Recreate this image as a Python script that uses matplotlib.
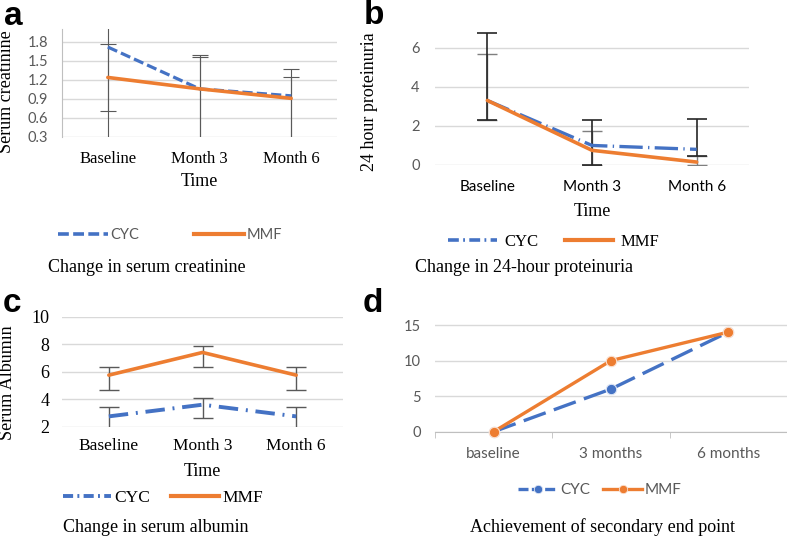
import matplotlib
matplotlib.use('Agg')
import matplotlib.pyplot as plt
from matplotlib.lines import Line2D

# ---- data ----
time_labels = ['Baseline', 'Month 3', 'Month 6']
end_labels = ['baseline', '3 months', '6 months']

creat_cyc = [1.72, 1.06, 0.95]
creat_cyc_hi = [0.40, 0.53, 0.43]
creat_cyc_lo = [1.60, 1.00, 0.80]
creat_mmf = [1.24, 1.06, 0.91]
creat_mmf_hi = [0.53, 0.50, 0.34]
creat_mmf_lo = [0.53, 0.90, 0.75]

prot_cyc = [3.3, 1.0, 0.8]
prot_cyc_hi = [3.45, 1.3, 1.55]
prot_cyc_lo = [1.0, 1.0, 0.35]
prot_mmf = [3.3, 0.75, 0.15]
prot_mmf_hi = [2.4, 1.0, 0.3]
prot_mmf_lo = [1.0, 0.75, 0.15]

alb_cyc = [2.75, 3.6, 2.75]
alb_cyc_hi = [0.65, 0.5, 0.65]
alb_cyc_lo = [0.9, 1.0, 0.9]
alb_mmf = [5.75, 7.4, 5.75]
alb_mmf_hi = [0.6, 0.5, 0.6]
alb_mmf_lo = [1.05, 1.05, 1.05]

end_cyc = [0, 6, 14]
end_mmf = [0, 10, 14]

BLUE = '#4472C4'
ORANGE = '#ED7D31'
GRID = '#D9D9D9'
GRAYTXT = '#595959'
SERIF = 'Liberation Serif'
SANS = 'Lato'

W, H = 787, 536
fig = plt.figure(figsize=(W / 100, H / 100), dpi=100)


def px_axes(left, top, right, bottom):
    return fig.add_axes([left / W, 1 - bottom / H, (right - left) / W, (bottom - top) / H])


def px_text(x, y, s, **kw):
    return fig.text(x / W, 1 - y / H, s, **kw)


def base_axes(ax, ylim, yticks):
    x = range(3)
    ax.set_xlim(-0.5, 2.5)
    ax.set_ylim(*ylim)
    ax.set_yticks(yticks)
    ax.set_xticks(list(x))
    ax.grid(axis='y', color=GRID, lw=1.0, zorder=0)
    ax.set_axisbelow(True)
    for s in ax.spines.values():
        s.set_visible(False)
    ax.tick_params(length=0)
    ax.set_facecolor('none')
    return list(x)


def legend(ax, handles, labels, cx, cy, font, size, color, hl, tp, cs):
    ax.legend(handles, labels, ncol=2, loc='center', bbox_to_anchor=(cx / W, 1 - cy / H),
              bbox_transform=fig.transFigure, frameon=False, handlelength=hl,
              handletextpad=tp, columnspacing=cs, labelcolor=color,
              prop={'family': font, 'size': size}, borderaxespad=0, borderpad=0)


# ---------------- panel a ----------------
ax = px_axes(62, 29.3, 337, 137)
x = base_axes(ax, (0.3, 2.0), [0.3, 0.6, 0.9, 1.2, 1.5, 1.8])
ax.yaxis.set_major_formatter(matplotlib.ticker.FormatStrFormatter('%.1f'))
ax.spines['left'].set_visible(True)
ax.spines['left'].set_color('#BFBFBF')
ax.errorbar(x, creat_cyc, yerr=[creat_cyc_lo, creat_cyc_hi], fmt='none', ecolor='#595959',
            elinewidth=0.8, capsize=6, capthick=0.8, zorder=2)
ax.errorbar(x, creat_mmf, yerr=[creat_mmf_lo, creat_mmf_hi], fmt='none', ecolor='#595959',
            elinewidth=0.8, capsize=6, capthick=0.8, zorder=2)
ax.plot(x, creat_cyc, color=BLUE, lw=2.3, ls=(0, (3.2, 1.3)), zorder=3)
ax.plot(x, creat_mmf, color=ORANGE, lw=2.6, zorder=4, solid_capstyle='round')
ax.set_xticklabels(time_labels, family=SERIF, size=12, color='black')
ax.tick_params(axis='x', pad=10)
ax.tick_params(axis='y', pad=10, labelcolor=GRAYTXT, labelsize=10.5)
for t in ax.get_yticklabels():
    t.set_family(SANS)
px_text(199, 181, 'Time', family=SERIF, size=13, ha='center', va='center')
px_text(7, 92, 'Serum creatinine', family=SERIF, size=13, ha='center', va='center', rotation=90)
legend(ax, [Line2D([], [], color=BLUE, lw=2.6, ls=(0, (3, 1.2))),
            Line2D([], [], color=ORANGE, lw=3)], ['CYC', 'MMF'],
       170, 235, SANS, 10.5, GRAYTXT, 3.4, 0.15, 3.8)
px_text(48, 267, 'Change in serum creatinine', family=SERIF, size=13, ha='left', va='center')
px_text(4, 25, 'a', family='Liberation Sans', weight='bold', size=24, ha='left', va='baseline')

# ---------------- panel b ----------------
ax = px_axes(435, 28.1, 749, 165)
x = base_axes(ax, (0, 7), [0, 2, 4, 6])
ax.errorbar(x, prot_mmf, yerr=[prot_mmf_lo, prot_mmf_hi], fmt='none', ecolor='#7F7F7F',
            elinewidth=1.0, capsize=7, capthick=1.0, zorder=2)
ax.errorbar(x, prot_cyc, yerr=[prot_cyc_lo, prot_cyc_hi], fmt='none', ecolor='#262626',
            elinewidth=1.2, capsize=7, capthick=1.2, zorder=2)
ax.plot(x, prot_cyc, color=BLUE, lw=2.4, ls=(0, (7, 1.6, 0.4, 1.6)), zorder=3)
ax.plot(x, prot_mmf, color=ORANGE, lw=2.6, zorder=4, solid_capstyle='round')
ax.set_xticklabels(time_labels, family=SANS, size=11, color='black')
ax.tick_params(axis='x', pad=11)
ax.tick_params(axis='y', pad=11, labelcolor=GRAYTXT, labelsize=10.5)
for t in ax.get_yticklabels():
    t.set_family(SANS)
px_text(592, 212, 'Time', family=SERIF, size=13, ha='center', va='center')
px_text(370, 102, '24 hour proteinuria', family=SERIF, size=13, ha='center', va='center', rotation=90)
legend(ax, [Line2D([], [], color=BLUE, lw=2.6, ls=(0, (3, 1.2, 0.5, 1.2))),
            Line2D([], [], color=ORANGE, lw=3)], ['CYC', 'MMF'],
       554, 242, SERIF, 12, 'black', 2.9, 0.45, 1.6)
px_text(415, 268, 'Change in 24-hour proteinuria', family=SERIF, size=13, ha='left', va='center')
px_text(364, 24, 'b', family='Liberation Sans', weight='bold', size=24, ha='left', va='baseline')

# ---------------- panel c ----------------
ax = px_axes(62, 316.7, 343, 426.7)
x = base_axes(ax, (2, 10), [2, 4, 6, 8, 10])
ax.errorbar(x, alb_cyc, yerr=[alb_cyc_lo, alb_cyc_hi], fmt='none', ecolor='#595959',
            elinewidth=1.0, capsize=7, capthick=1.0, zorder=2)
ax.errorbar(x, alb_mmf, yerr=[alb_mmf_lo, alb_mmf_hi], fmt='none', ecolor='#595959',
            elinewidth=1.0, capsize=7, capthick=1.0, zorder=2)
ax.plot(x, alb_cyc, color=BLUE, lw=2.8, ls=(0, (5, 2, 0.5, 2)), zorder=3)
ax.plot(x, alb_mmf, color=ORANGE, lw=2.6, zorder=4, solid_capstyle='round')
ax.set_xticklabels(time_labels, family=SERIF, size=12.5, color='black')
ax.set_yticklabels([str(v) for v in [2, 4, 6, 8, 10]], family=SERIF, size=13, color='black')
ax.tick_params(axis='x', pad=8)
ax.tick_params(axis='y', pad=9)
px_text(202, 471, 'Time', family=SERIF, size=13, ha='center', va='center')
px_text(8, 383, 'Serum Albumin', family=SERIF, size=13, ha='center', va='center', rotation=90)
legend(ax, [Line2D([], [], color=BLUE, lw=2.8, ls=(0, (2.6, 1.1, 0.5, 1.1))),
            Line2D([], [], color=ORANGE, lw=3)], ['CYC', 'MMF'],
       163, 498, SERIF, 12.5, 'black', 2.8, 0.2, 1.15)
px_text(63, 527, 'Change in serum albumin', family=SERIF, size=13, ha='left', va='center')
px_text(3, 312, 'c', family='Liberation Sans', weight='bold', size=24, ha='left', va='baseline')

# ---------------- panel d ----------------
ax = px_axes(435, 317.9, 787, 431.7)
x = base_axes(ax, (0, 16), [0, 5, 10, 15])
ax.spines['bottom'].set_visible(True)
ax.spines['bottom'].set_color('#BFBFBF')
ax.set_xticks([-0.5, 0.5, 1.5, 2.5], minor=True)
ax.tick_params(axis='x', which='minor', length=4, color='#BFBFBF', direction='out')
ax.plot(x, end_cyc, color=BLUE, lw=2.4, ls=(0, (7, 2.6)), marker='o', ms=7.5,
        mec='#DCE4F4', mew=0.8, zorder=3, clip_on=False)
ax.plot(x, end_mmf, color=ORANGE, lw=2.4, marker='o', ms=7.5,
        mec='#FBE0CF', mew=0.8, zorder=4, clip_on=False)
ax.set_xticklabels(end_labels, family=SANS, size=11, color=GRAYTXT)
ax.tick_params(axis='x', which='major', pad=11)
ax.tick_params(axis='y', pad=10, labelcolor=GRAYTXT, labelsize=10.5)
for t in ax.get_yticklabels():
    t.set_family(SANS)
legend(ax, [Line2D([], [], color=BLUE, lw=2.4, ls=(0, (3, 1)), marker='o', ms=6,
                   mec='#DCE4F4', mew=0.6),
            Line2D([], [], color=ORANGE, lw=2.4, marker='o', ms=6, mec='#FBE0CF', mew=0.6)],
       ['CYC', 'MMF'], 600, 490, SANS, 11, GRAYTXT, 2.6, 0.15, 0.8)
px_text(602, 527, 'Achievement of secondary end point', family=SERIF, size=13, ha='center', va='center')
px_text(363, 312, 'd', family='Liberation Sans', weight='bold', size=24, ha='left', va='baseline')

fig.savefig('out.png', dpi=100)
